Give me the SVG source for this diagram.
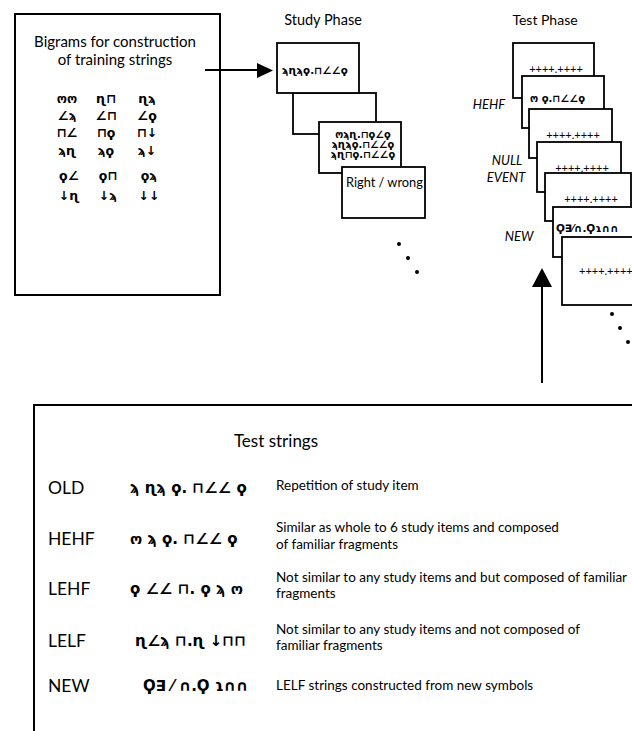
<svg xmlns="http://www.w3.org/2000/svg" width="632" height="731" viewBox="0 0 632 731">
<style>
.bx{fill:#fff;stroke:#000;stroke-width:2}
.cd{fill:#fff;stroke:#000;stroke-width:1.8}
.t{font-family:Lato,"Open Sans","Liberation Sans",sans-serif;fill:#000}
.it{font-family:Lato,"Open Sans","Liberation Sans",sans-serif;font-style:italic;font-size:13px;fill:#000}
.sy{font-family:"DejaVu Sans",sans-serif;font-weight:bold;fill:#000}
.pl{font-family:Lato,"Liberation Sans",sans-serif;font-size:11px;fill:#000}
.ln{stroke:#000;stroke-width:2;fill:none}
</style>
<rect width="632" height="731" fill="#fff"/>

<g id="bigrams">
<rect class="bx" x="15" y="14" width="205" height="281"/>
<text class="t" font-size="15" text-anchor="middle" x="115" y="47">Bigrams for construction</text>
<text class="t" font-size="15" text-anchor="middle" x="115" y="65">of training strings</text>
<g class="sy" font-size="12.5" text-anchor="middle">
<text x="67" y="103">ოო</text><text x="106" y="103">ɳ⊓</text><text x="147" y="103">ɳϡ</text>
<text x="67" y="120">∠ϡ</text><text x="106" y="120">∠⊓</text><text x="147" y="120">∠ϙ</text>
<text x="67" y="137">⊓∠</text><text x="106" y="137">⊓ϙ</text><text x="147" y="137">⊓↓</text>
<text x="67" y="155">ϡɳ</text><text x="106" y="155">ϡϙ</text><text x="147" y="155">ϡ↓</text>
<text x="69" y="180">ϙ∠</text><text x="108" y="180">ϙ⊓</text><text x="149" y="180">ϙϡ</text>
<text x="69" y="200">↓ɳ</text><text x="108" y="200">↓ϡ</text><text x="149" y="200">↓↓</text>
</g>
</g>

<g id="study-phase">
<text class="t" font-size="14.5" text-anchor="middle" x="323" y="25">Study Phase</text>
<rect class="cd" x="293" y="93" width="83" height="41"/>
<rect class="cd" x="277" y="43" width="82" height="50"/>
<text class="sy" font-size="10.3" x="282" y="74">ϡɳϡϙ.⊓∠∠ϙ</text>
<rect class="cd" x="319" y="122" width="82" height="51"/>
<g class="sy" font-size="9.8" text-anchor="middle">
<text x="363" y="138">ოϡɳ.⊓ϙ∠ϙ</text>
<text x="363" y="148">ϡɳϡϙ.⊓∠∠ϙ</text>
<text x="363" y="158">ϡɳ⊓ϙ.⊓∠∠ϙ</text>
</g>
<rect class="cd" x="342" y="167" width="83" height="51"/>
<text class="t" font-size="12.8" x="346" y="187">Right / wrong</text>
<circle cx="399" cy="244" r="2"/><circle cx="408" cy="258" r="2"/><circle cx="417" cy="272" r="2"/>
</g>

<g id="test-phase">
<text class="t" font-size="14" text-anchor="middle" x="545" y="25">Test Phase</text>
<rect class="cd" x="513" y="43" width="81" height="55"/>
<text class="pl" text-anchor="middle" x="556" y="73">++++.++++</text>
<rect class="cd" x="522" y="76" width="82" height="52"/>
<text class="sy" font-size="10" x="530" y="102">ო ϙ.⊓∠∠ϙ</text>
<rect class="cd" x="529" y="109" width="83" height="49"/>
<text class="pl" text-anchor="middle" x="573" y="139">++++.++++</text>
<rect class="cd" x="537" y="142" width="84" height="50"/>
<text class="pl" text-anchor="middle" x="582" y="172">++++.++++</text>
<rect class="cd" x="545" y="173" width="86" height="48"/>
<text class="pl" text-anchor="middle" x="591" y="203">++++.++++</text>
<rect class="cd" x="553" y="207" width="90" height="50"/>
<text class="sy" font-size="10.5" x="556" y="232">Ϙ∃⁄∩.Ϙɿ∩∩</text>
<rect class="cd" x="562" y="237" width="90" height="68"/>
<text class="pl" font-size="10.3" x="579" y="275">++++.++++</text>
<text class="it" text-anchor="middle" x="489" y="109">HEHF</text>
<text class="it" text-anchor="middle" x="507" y="165">NULL</text>
<text class="it" text-anchor="middle" x="506" y="182">EVENT</text>
<text class="it" text-anchor="middle" x="519" y="241">NEW</text>
<circle cx="612" cy="314" r="2"/><circle cx="620" cy="328" r="2"/><circle cx="628" cy="342" r="2"/>
</g>

<g id="connectors">
<line class="ln" x1="205" y1="70" x2="259" y2="70"/>
<polygon points="257,63 273,70.5 257,78"/>
<line class="ln" x1="542" y1="383" x2="542" y2="284"/>
<polygon points="532,287 542,268 552,287"/>
</g>

<g id="test-strings">
<rect class="bx" x="34" y="405" width="620" height="340"/>
<text class="t" font-size="17" text-anchor="middle" x="276" y="447">Test strings</text>
<g class="t" font-size="17.5">
<text x="48" y="494">OLD</text>
<text x="48" y="545">HEHF</text>
<text x="48" y="595">LEHF</text>
<text x="48" y="647">LELF</text>
<text x="48" y="692">NEW</text>
</g>
<g class="sy" font-size="15">
<text x="130" y="493">ϡ ɳϡ ϙ. ⊓∠∠ ϙ</text>
<text x="130" y="544">ო ϡ ϙ. ⊓∠∠ ϙ</text>
<text x="130" y="594">ϙ ∠∠ ⊓. ϙ ϡ ო</text>
<text x="135" y="646">ɳ∠ϡ ⊓.ɳ ↓⊓⊓</text>
<text x="143" y="691">Ϙ∃ ⁄ ∩.Ϙ ɿ∩∩</text>
</g>
<g class="t" font-size="13.5">
<text x="276" y="490">Repetition of study item</text>
<text x="276" y="532">Similar as whole to 6 study items and composed</text>
<text x="276" y="549">of familiar fragments</text>
<text x="276" y="582">Not similar to any study items and but composed of familiar</text>
<text x="276" y="598">fragments</text>
<text x="276" y="634">Not similar to any study items and not composed of</text>
<text x="276" y="650">familiar fragments</text>
<text x="276" y="690">LELF strings constructed from new symbols</text>
</g>
</g>
</svg>
